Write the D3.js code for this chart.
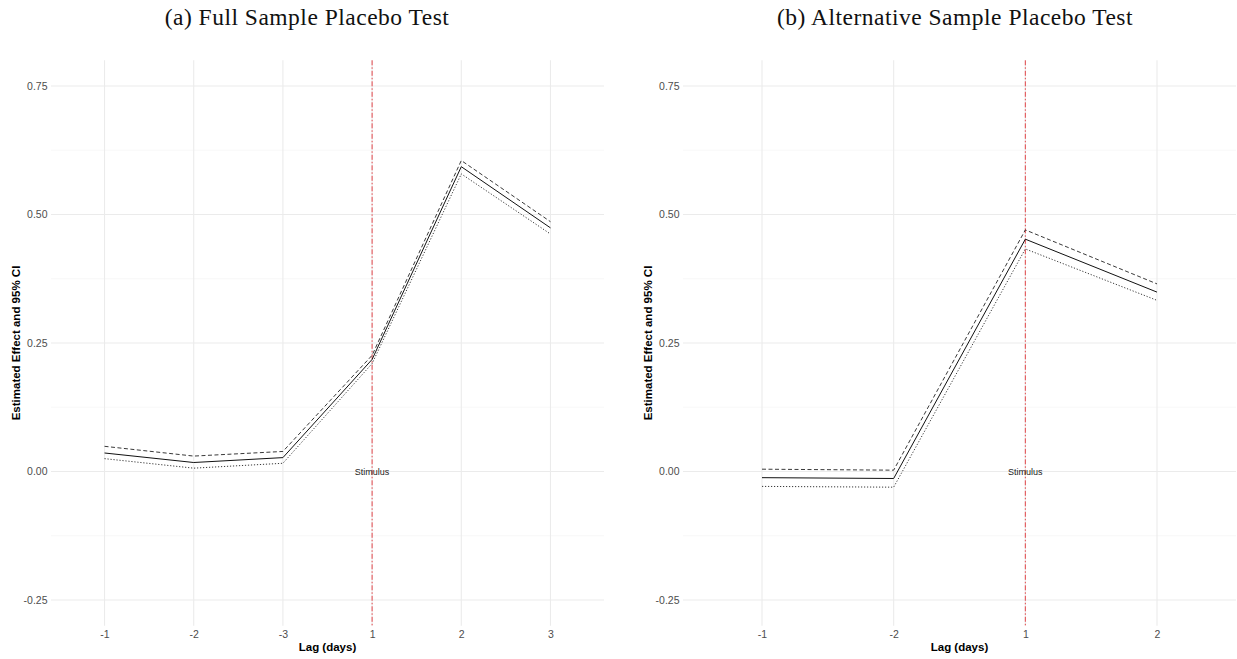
<!DOCTYPE html>
<html>
<head>
<meta charset="utf-8">
<script src="https://cdn.jsdelivr.net/npm/d3@7"></script>
<style>
  body { margin: 0; background: #fff; }
  svg { display: block; }
</style>
</head>
<body>
<div class="container"></div>
<script>
// 数据
var lagsA = ["-1", "-2", "-3", "1", "2", "3"];
var estA = [0.036, 0.0175, 0.027, 0.218, 0.593, 0.474];
var upperA = [0.049, 0.030, 0.039, 0.226, 0.605, 0.486];
var lowerA = [0.025, 0.0065, 0.016, 0.210, 0.579, 0.462];

var lagsB = ["-1", "-2", "1", "2"];
var estB = [-0.012, -0.0136, 0.452, 0.349];
var upperB = [0.0045, 0.0026, 0.470, 0.365];
var lowerB = [-0.029, -0.0305, 0.433, 0.333];

var yTicks = [-0.25, 0, 0.25, 0.5, 0.75];
var yTickLabels = ["-0.25", "0.00", "0.25", "0.50", "0.75"];
var yMinor = [-0.125, 0.125, 0.375, 0.625];

var stimulusLag = "1";

// 画布
var W = 1237, H = 659;
var svg = d3.select(".container").append("svg")
  .attr("width", W).attr("height", H);

// y 比例尺(两个面板共用)
var y = d3.scaleLinear().domain([-0.25, 0.75]).range([600, 86]);
var yTop = y(0.80), yBot = y(-0.30);

var panels = [
  {title: "(a) Full Sample Placebo Test", titleX: 307, left: 51, right: 604, yTitleX: 16,
   lags: lagsA, est: estA, upper: upperA, lower: lowerA},
  {title: "(b) Alternative Sample Placebo Test", titleX: 955, left: 683, right: 1236, yTitleX: 648,
   lags: lagsB, est: estB, upper: upperB, lower: lowerB}
];

panels.forEach(function(p) {
  var g = svg.append("g");
  var x = d3.scalePoint().domain(p.lags).range([p.left, p.right]).padding(0.6);

  // 标题
  svg.append("text")
    .attr("x", p.titleX).attr("y", 25)
    .attr("text-anchor", "middle")
    .style("font-family", "'Liberation Serif', 'DejaVu Serif', serif")
    .style("font-size", "23.5px")
    .style("letter-spacing", "0.5px")
    .style("fill", "#111")
    .text(p.title);

  // 次网格线
  g.selectAll(".minor").data(yMinor).enter().append("line")
    .attr("x1", p.left).attr("x2", p.right)
    .attr("y1", function(d) { return y(d); }).attr("y2", function(d) { return y(d); })
    .style("stroke", "#f3f3f3").style("stroke-width", 0.6);

  // 主网格线
  g.selectAll(".majorY").data(yTicks).enter().append("line")
    .attr("x1", p.left).attr("x2", p.right)
    .attr("y1", function(d) { return y(d); }).attr("y2", function(d) { return y(d); })
    .style("stroke", "#ebebeb").style("stroke-width", 1.1);

  g.selectAll(".majorX").data(p.lags).enter().append("line")
    .attr("x1", function(d) { return x(d); }).attr("x2", function(d) { return x(d); })
    .attr("y1", yTop).attr("y2", yBot)
    .style("stroke", "#ebebeb").style("stroke-width", 1.1);

  // y 轴
  var yAxis = g.append("g")
    .attr("transform", "translate(" + (p.left - 3.5) + ",0)")
    .call(d3.axisLeft(y).tickValues(yTicks).tickSize(0).tickPadding(0)
      .tickFormat(function(d) { return yTickLabels[yTicks.indexOf(d)]; }));
  yAxis.select(".domain").remove();
  yAxis.selectAll("text")
    .style("font-family", "'Liberation Sans', Arial, sans-serif")
    .style("font-size", "10.5px")
    .style("fill", "#4d4d4d");

  // x 轴
  var xAxis = g.append("g")
    .attr("transform", "translate(0," + (yBot + 5.3) + ")")
    .call(d3.axisBottom(x).tickSize(0).tickPadding(0));
  xAxis.select(".domain").remove();
  xAxis.selectAll("text")
    .attr("dy", "0.71em")
    .style("font-family", "'Liberation Sans', Arial, sans-serif")
    .style("font-size", "10.5px")
    .style("fill", "#4d4d4d");

  // 轴标题
  svg.append("text")
    .attr("x", (p.left + p.right) / 2).attr("y", 650.5)
    .attr("text-anchor", "middle")
    .style("font-family", "'Liberation Sans', Arial, sans-serif")
    .style("font-size", "11.5px").style("font-weight", "bold")
    .text("Lag (days)");

  svg.append("text")
    .attr("transform", "translate(" + p.yTitleX + "," + ((yTop + yBot) / 2) + ") rotate(-90)")
    .attr("text-anchor", "middle")
    .attr("dy", "0.35em")
    .style("font-family", "'Liberation Sans', Arial, sans-serif")
    .style("font-size", "11.5px").style("font-weight", "bold")
    .text("Estimated Effect and 95% CI");

  // 刺激线
  g.append("line")
    .attr("x1", x(stimulusLag)).attr("x2", x(stimulusLag))
    .attr("y1", yTop).attr("y2", yBot)
    .style("stroke", "#e2464a").style("stroke-width", 1)
    .style("stroke-dasharray", "5,2,1.5,2");

  // 数据线
  var line = d3.line()
    .x(function(d) { return x(d[0]); })
    .y(function(d) { return y(d[1]); });

  function pts(vals) { return p.lags.map(function(l, i) { return [l, vals[i]]; }); }

  g.append("path").attr("d", line(pts(p.upper)))
    .style("fill", "none").style("stroke", "#222").style("stroke-width", 0.9)
    .style("stroke-dasharray", "4,2.5");
  g.append("path").attr("d", line(pts(p.lower)))
    .style("fill", "none").style("stroke", "#222").style("stroke-width", 0.9)
    .style("stroke-dasharray", "1.2,1.8");
  g.append("path").attr("d", line(pts(p.est)))
    .style("fill", "none").style("stroke", "#111").style("stroke-width", 1);

  g.append("text")
    .attr("x", x(stimulusLag)).attr("y", y(0))
    .attr("dy", "0.35em")
    .attr("text-anchor", "middle")
    .style("font-family", "'Liberation Sans', Arial, sans-serif")
    .style("font-size", "9px")
    .style("fill", "#222")
    .text("Stimulus");
});
</script>
</body>
</html>
